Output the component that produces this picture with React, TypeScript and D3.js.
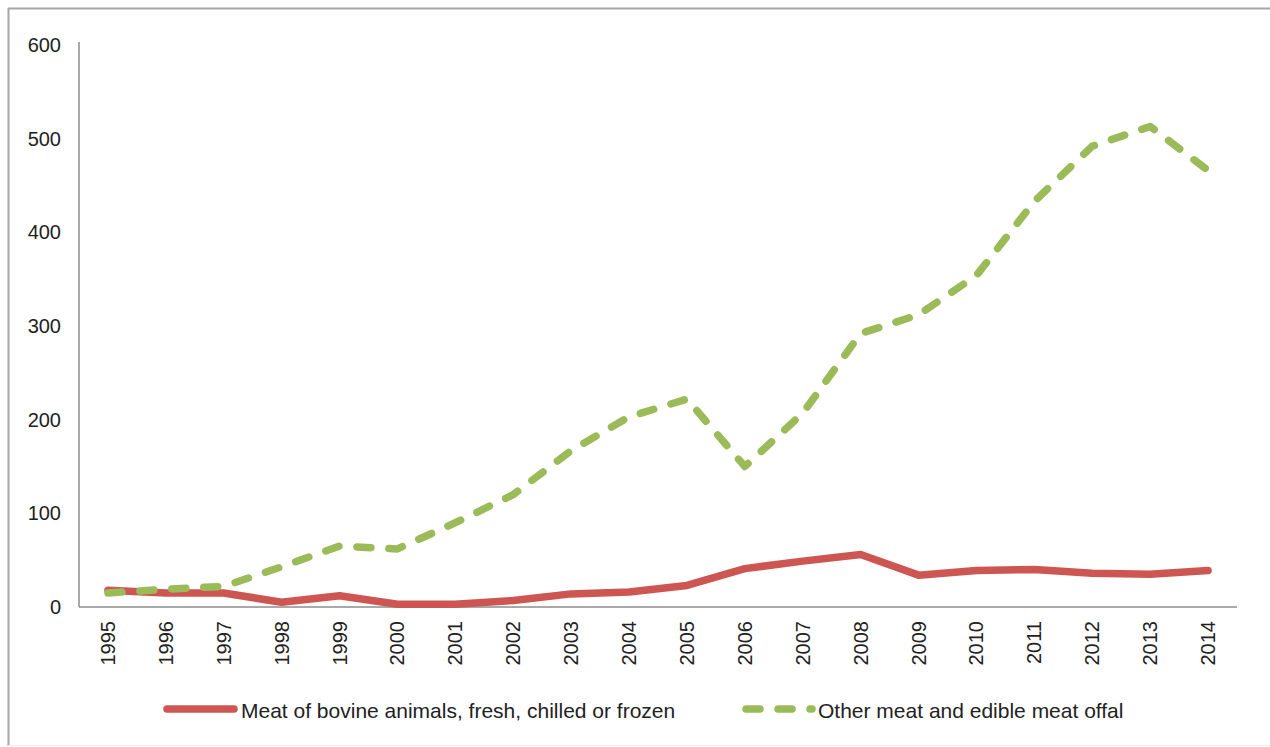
import React from "react";
import * as d3 from "d3";

const years = [
  "1995","1996","1997","1998","1999","2000","2001","2002","2003","2004",
  "2005","2006","2007","2008","2009","2010","2011","2012","2013","2014",
];
const bovine = [18, 15, 15, 5, 12, 3, 3, 7, 14, 16, 23, 41, 49, 56, 34, 39, 40, 36, 35, 39];
const otherMeat = [15, 19, 22, 43, 65, 62, 90, 120, 167, 203, 222, 150, 207, 292, 312, 354, 433, 492, 513, 466];
const yTicks = [0, 100, 200, 300, 400, 500, 600];
const seriesNames = [
  "Meat of bovine animals, fresh, chilled or frozen",
  "Other meat and edible meat offal",
];

const W = 1270;
const H = 747;
const left = 79;
const right = 1237;
const top = 45;
const bottom = 607;

export default function App() {
  const x = d3.scaleBand<string>().domain(years).range([left, right]).paddingInner(0).paddingOuter(0);
  const y = d3.scaleLinear().domain([0, 600]).range([bottom, top]);
  const cx = (d: string) => (x(d) as number) + x.bandwidth() / 2;
  const line = d3
    .line<number>()
    .x((_, i) => cx(years[i]))
    .y((v) => y(v));

  const font = "'Liberation Sans', Arial, sans-serif";
  const red = "#cd5652";
  const green = "#9bbb59";

  return (
    <svg
      width={W}
      height={H}
      style={{ position: "absolute", left: 0, top: 0, background: "#fff" }}
      fontFamily={font}
    >
      <line x1={8} x2={W} y1={8.5} y2={8.5} stroke="#a6a6a6" strokeWidth={2} />
      <line x1={8.5} x2={8.5} y1={8} y2={746} stroke="#a6a6a6" strokeWidth={2} />
      <line x1={8} x2={W} y1={745.5} y2={745.5} stroke="#ececec" strokeWidth={1} />
      {/* axes */}
      <line x1={left} x2={left} y1={42} y2={bottom} stroke="#8c8c8c" strokeWidth={1.5} />
      <line x1={left} x2={right} y1={bottom} y2={bottom} stroke="#8c8c8c" strokeWidth={1.5} />
      {yTicks.map((t) => (
        <text key={t} x={61} y={y(t)} textAnchor="end" dominantBaseline="central" fontSize={20} fill="#222">
          {t}
        </text>
      ))}
      {years.map((yr) => (
        <text
          key={yr}
          transform={`translate(${cx(yr)},${621}) rotate(-90)`}
          textAnchor="end"
          dominantBaseline="central"
          fontSize={20}
          fill="#222"
        >
          {yr}
        </text>
      ))}
      <path d={line(bovine) || ""} fill="none" stroke={red} strokeWidth={7.5} strokeLinejoin="round" strokeLinecap="round" />
      <path
        d={line(otherMeat) || ""}
        fill="none"
        stroke={green}
        strokeWidth={7.5}
        strokeLinejoin="round"
        strokeLinecap="round"
        strokeDasharray="14,18"
      />
      {/* legend */}
      <line x1={167} x2={234} y1={709} y2={709} stroke={red} strokeWidth={7.5} strokeLinecap="round" />
      <text x={241} y={710} dominantBaseline="central" fontSize={21} fill="#222">
        {seriesNames[0]}
      </text>
      <line
        x1={746}
        x2={812}
        y1={709}
        y2={709}
        stroke={green}
        strokeWidth={7.5}
        strokeLinecap="round"
        strokeDasharray="14,18"
      />
      <text x={818} y={710} dominantBaseline="central" fontSize={21} fill="#222">
        {seriesNames[1]}
      </text>
    </svg>
  );
}
